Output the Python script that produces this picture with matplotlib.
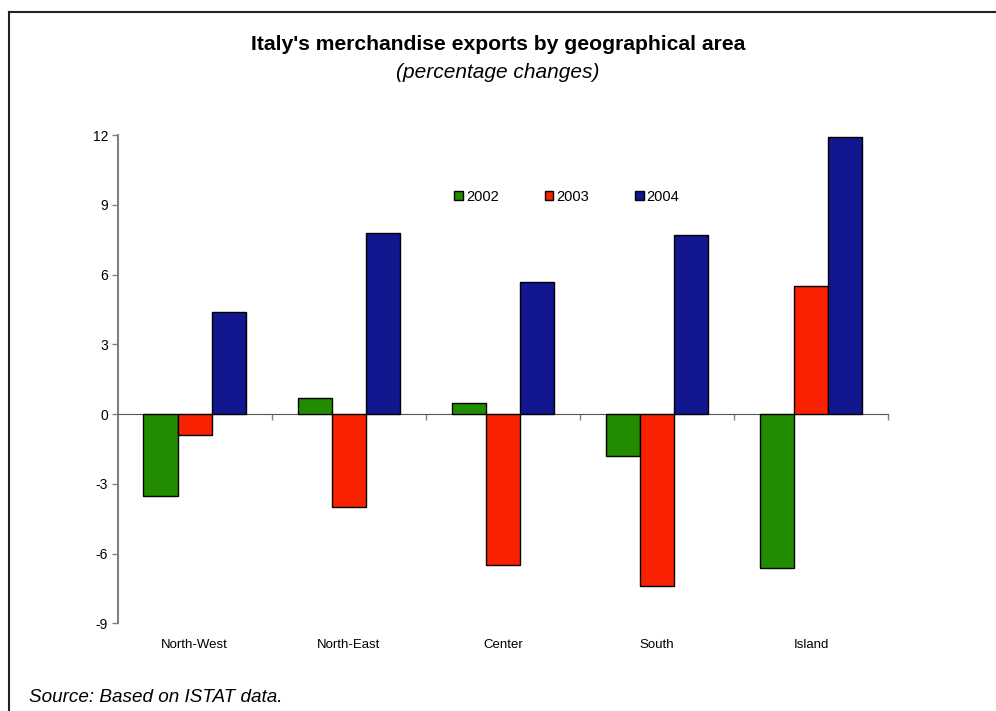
import matplotlib
matplotlib.use("Agg")
import matplotlib.pyplot as plt
import matplotlib.transforms as mtransforms
from matplotlib.lines import Line2D
import numpy as np

plt.rcParams['font.family'] = ['Liberation Sans', 'DejaVu Sans']
plt.rcParams['axes.unicode_minus'] = False

regions = ["North-West", "North-East", "Center", "South", "Island"]
years = ["2002", "2003", "2004"]
exp_2002 = [-3.5, 0.7, 0.5, -1.8, -6.6]
exp_2003 = [-0.9, -4.0, -6.5, -7.4, 5.5]
exp_2004 = [4.4, 7.8, 5.7, 7.7, 11.9]
colors = ["#228c00", "#f82200", "#12168f"]

fig = plt.figure(figsize=(9.96, 7.11), dpi=100)
ax = fig.add_axes([0.1182, 0.1231, 0.7734, 0.6870])

x = np.arange(len(regions))
w = 0.222
for i, (vals, yr) in enumerate(zip([exp_2002, exp_2003, exp_2004], years)):
    ax.bar(x + (i - 1) * w, vals, width=w, color=colors[i], edgecolor="black",
           linewidth=1.0, label=yr, zorder=3)

ax.set_xlim(-0.5, len(regions) - 0.5)
ax.set_ylim(-9, 12)
ax.set_yticks(np.arange(-9, 13, 3))
ax.tick_params(axis="y", direction="out", length=4, width=1, color="#808080",
               labelsize=10, pad=3)

# x axis sits on zero, ticks between the groups
ax.spines["bottom"].set_position(("data", 0))
ax.spines["bottom"].set_color("#555555")
ax.spines["left"].set_color("#808080")
ax.spines["left"].set_linewidth(1.5)
ax.spines["top"].set_visible(False)
ax.spines["right"].set_visible(False)
ax.set_xticks(np.arange(0.5, len(regions), 1))
ax.set_xticklabels([])
ax.tick_params(axis="x", direction="out", length=4, width=1, color="#808080")

# region names under the plot area
label_trans = (mtransforms.blended_transform_factory(ax.transData, ax.transAxes)
               + mtransforms.ScaledTranslation(0, -7 / 72, fig.dpi_scale_trans))
for i, name in enumerate(regions):
    ax.text(i, -0.012, name, transform=label_trans, ha="center", va="top", fontsize=9.5)

ax.legend(loc="center", bbox_to_anchor=(0.569, 1 - 196.7 / 711), bbox_transform=fig.transFigure,
          ncol=3, frameon=False, fontsize=10.5, handlelength=0.6, handleheight=0.6,
          handletextpad=0.2, columnspacing=3.15)

fig.text(0.5, 1 - 45 / 711, "Italy's merchandise exports by geographical area",
         ha="center", va="center", fontsize=15.2, fontweight="bold")
fig.text(0.5, 1 - 73 / 711, "(percentage changes)", ha="center", va="center",
         fontsize=15, style="italic")
fig.text(29 / 996, 1 - 698 / 711, "Source: Based on ISTAT data.", ha="left",
         va="center", fontsize=13.6, style="italic")

# frame around the figure (top and left edges)
fig.add_artist(Line2D([9 / 996, 1.0], [1 - 12 / 711, 1 - 12 / 711],
                      transform=fig.transFigure, color="#222222", linewidth=1.5))
fig.add_artist(Line2D([9 / 996, 9 / 996], [0.0, 1 - 12 / 711],
                      transform=fig.transFigure, color="#222222", linewidth=1.5))

fig.savefig("out.png", dpi=100)
